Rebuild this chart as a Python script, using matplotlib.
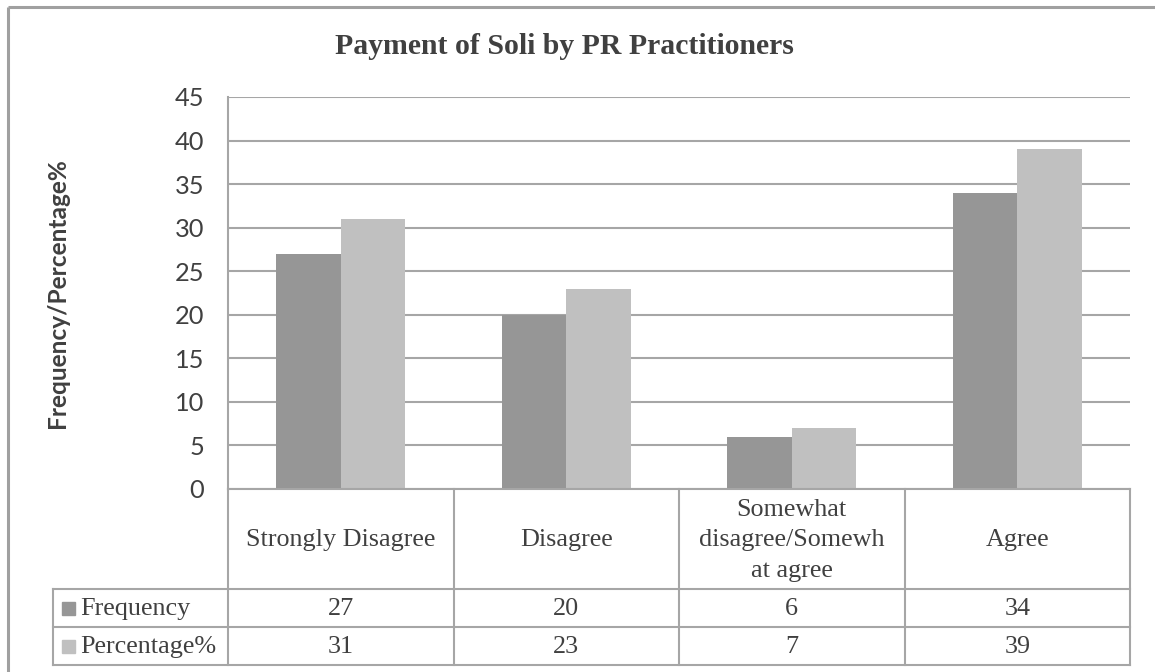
import matplotlib
matplotlib.use("Agg")
import matplotlib.pyplot as plt
from matplotlib.patches import Rectangle

# ---- data ----
categories = ["Strongly Disagree", "Disagree", "Somewhat\ndisagree/Somewh\nat agree", "Agree"]
series_names = ["Frequency", "Percentage%"]
frequency = [27, 20, 6, 34]
percentage = [31, 23, 7, 39]
yticks = [0, 5, 10, 15, 20, 25, 30, 35, 40, 45]
title = "Payment of Soli by PR Practitioners"
ylabel = "Frequency/Percentage%"

# ---- style ----
W, H = 1155, 672
col_dark = "#969696"
col_light = "#c0c0c0"
grid_col = "#a6a6a6"
txt_col = "#404040"
serif = ["Liberation Serif", "DejaVu Serif"]
sans = ["Lato", "DejaVu Sans"]

fig = plt.figure(figsize=(W / 100, H / 100), dpi=100)

# layout in pixels
L, R, T, B = 228, 1130, 97, 489
row1, row2, row3 = 589, 627, 665
legend_left = 53

def fx(x):
    return x / W

def fy(y):
    return 1 - y / H

ax = fig.add_axes([fx(L), fy(B), (R - L) / W, (B - T) / H])
n = len(categories)
xs = list(range(n))
bw = 1 / 3.5
ax.bar([x - bw / 2 for x in xs], frequency, width=bw, color=col_dark, zorder=3)
ax.bar([x + bw / 2 for x in xs], percentage, width=bw, color=col_light, zorder=3)
ax.set_xlim(-0.5, n - 0.5)
ax.set_ylim(0, 45)
ax.set_yticks(yticks)
ax.set_yticklabels([str(v) for v in yticks], family=sans, fontsize=18.3, color=txt_col)
ax.tick_params(axis="y", length=0, pad=17)
ax.set_xticks([])
ax.yaxis.grid(True, color=grid_col, linewidth=1.5, zorder=0)
for s in ["top", "right", "bottom"]:
    ax.spines[s].set_visible(False)
ax.spines["left"].set_color(grid_col)
ax.spines["left"].set_linewidth(1.5)

# overlay in pixel coordinates for frame, title and data table
ov = fig.add_axes([0, 0, 1, 1], zorder=5)
ov.set_xlim(0, W)
ov.set_ylim(H, 0)
ov.axis("off")
ov.patch.set_alpha(0)

# outer chart frame (top and left edges visible)
ov.plot([8, W], [7, 7], color="#a0a0a0", lw=2.2, solid_capstyle="butt")
ov.plot([8, 8], [7, H], color="#a0a0a0", lw=2.2, solid_capstyle="butt")

ov.text(564, 47, title, ha="center", va="center", family=serif,
        fontweight="bold", fontsize=21.4, color=txt_col)
ov.text(58, 293, ylabel, ha="center", va="center", rotation=90,
        family=sans, fontweight="bold", fontsize=17.6, color=txt_col)

lc = "#a6a6a6"
lw = 1.5
cw = (R - L) / n
bounds = [L + i * cw for i in range(n + 1)]
# horizontal lines
ov.plot([L, R], [B, B], color=lc, lw=lw)
for y in (row1, row2, row3):
    ov.plot([legend_left, R], [y, y], color=lc, lw=lw)
# vertical lines
for xb in bounds:
    ov.plot([xb, xb], [B, row3], color=lc, lw=lw)
ov.plot([legend_left, legend_left], [row1, row3], color=lc, lw=lw)

# category labels
for i, c in enumerate(categories):
    ov.text(bounds[i] + cw / 2, (B + row1) / 2 + 1, c, ha="center", va="center",
            family=serif, fontsize=18.8, color=txt_col, linespacing=1.5)

# series rows
for r, (name, vals, col) in enumerate([(series_names[0], frequency, col_dark),
                                       (series_names[1], percentage, col_light)]):
    y0 = row1 if r == 0 else row2
    y1 = row2 if r == 0 else row3
    yc = (y0 + y1) / 2
    ov.add_patch(Rectangle((62, yc - 6.5), 13, 13, color=col))
    ov.text(80, yc + 1, name, ha="left", va="center", family=serif,
            fontsize=18.8, color=txt_col)
    for i, v in enumerate(vals):
        ov.text(bounds[i] + cw / 2, yc + 1, str(v), ha="center", va="center",
                family=serif, fontsize=18.8, color=txt_col)

fig.savefig("out.png", dpi=100, facecolor="white")
